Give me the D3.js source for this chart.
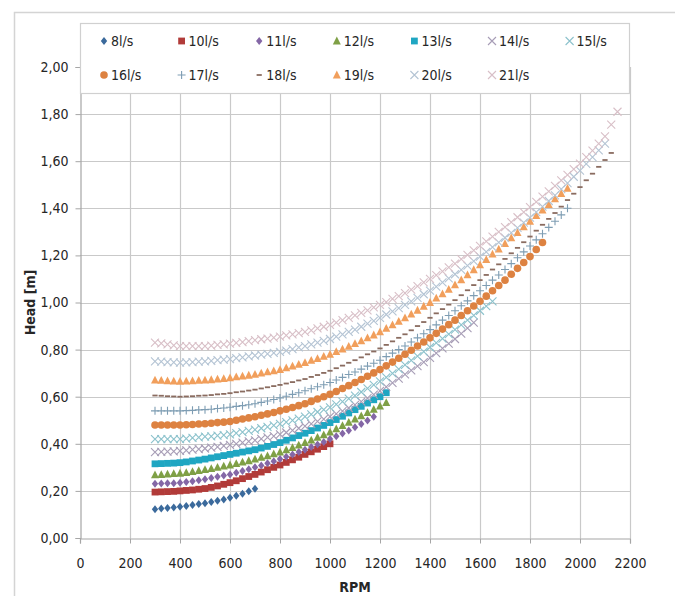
<!DOCTYPE html>
<html>
<head>
<meta charset="utf-8">
<script src="https://cdn.jsdelivr.net/npm/d3@7"></script>
<style>
  html, body { margin: 0; padding: 0; background: #ffffff; overflow: hidden; }
  svg { display: block; }
  text { font-family: "DejaVu Sans Condensed", "DejaVu Sans", sans-serif; font-stretch: condensed; fill: #262626; }
</style>
</head>
<body>
<svg id="chart" width="675" height="596"></svg>
<script>
// ---------- DATA ----------
// shared RPM grid (every series starts at 300 RPM, one point per 25 RPM)
const rpm = [300,325,350,375,400,425,450,475,500,525,550,575,600,625,650,675,700,725,750,775,
  800,825,850,875,900,925,950,975,1000,1025,1050,1075,1100,1125,1150,1175,1200,1225,1250,1275,
  1300,1325,1350,1375,1400,1425,1450,1475,1500,1525,1550,1575,1600,1625,1650,1675,1700,1725,1750,1775,
  1800,1825,1850,1875,1900,1925,1950,1975,2000,2025,2050,2075,2100,2125,2150];

const seriesNames = ["8l/s","10l/s","11l/s","12l/s","13l/s","14l/s","15l/s","16l/s","17l/s","18l/s","19l/s","20l/s","21l/s"];

const head8 = [0.122,0.125,0.127,0.130,0.133,0.136,0.140,0.144,0.148,0.153,0.158,0.164,0.171,0.179,0.188,0.198,0.209];
const head10 = [0.195,0.196,0.197,0.198,0.200,0.202,0.204,0.207,0.210,0.215,0.221,0.228,0.235,0.243,0.252,0.261,0.270,0.280,0.290,0.300,0.310,0.321,0.332,0.343,0.355,0.366,0.377,0.388,0.400];
const head11 = [0.230,0.231,0.232,0.233,0.235,0.238,0.241,0.245,0.250,0.255,0.260,0.265,0.270,0.277,0.284,0.292,0.300,0.308,0.317,0.326,0.335,0.345,0.355,0.365,0.375,0.386,0.397,0.408,0.420,0.432,0.444,0.457,0.470,0.484,0.499,0.515];
const head12 = [0.268,0.269,0.271,0.273,0.275,0.278,0.282,0.286,0.290,0.295,0.300,0.305,0.310,0.316,0.322,0.328,0.335,0.342,0.349,0.357,0.365,0.374,0.384,0.394,0.405,0.416,0.427,0.438,0.450,0.463,0.477,0.491,0.505,0.519,0.532,0.546,0.560,0.575];
const head13 = [0.315,0.316,0.317,0.318,0.320,0.323,0.327,0.331,0.335,0.340,0.345,0.350,0.355,0.360,0.365,0.370,0.375,0.382,0.389,0.397,0.405,0.415,0.425,0.435,0.445,0.456,0.467,0.478,0.490,0.503,0.517,0.531,0.545,0.559,0.573,0.587,0.600,0.617];
const head14 = [0.365,0.366,0.367,0.368,0.370,0.372,0.375,0.377,0.380,0.384,0.387,0.391,0.395,0.400,0.405,0.410,0.415,0.421,0.427,0.433,0.440,0.448,0.457,0.466,0.475,0.485,0.495,0.505,0.515,0.527,0.539,0.552,0.565,0.579,0.594,0.609,0.625,0.642,0.659,0.677,0.695,0.712,0.730,0.747,0.765,0.785,0.805,0.825,0.845,0.868,0.891,0.915];
const head15 = [0.420,0.420,0.420,0.420,0.420,0.422,0.425,0.427,0.430,0.432,0.435,0.437,0.440,0.445,0.450,0.455,0.460,0.466,0.472,0.478,0.485,0.492,0.499,0.507,0.515,0.525,0.535,0.545,0.555,0.567,0.579,0.592,0.605,0.620,0.635,0.650,0.665,0.682,0.699,0.717,0.735,0.754,0.772,0.791,0.810,0.829,0.847,0.866,0.885,0.905,0.925,0.945,0.965,0.985,1.005];
const head16 = [0.480,0.480,0.480,0.480,0.480,0.481,0.482,0.484,0.485,0.487,0.490,0.492,0.495,0.500,0.505,0.510,0.515,0.521,0.527,0.533,0.540,0.547,0.554,0.562,0.570,0.580,0.590,0.600,0.610,0.622,0.635,0.647,0.660,0.673,0.687,0.701,0.715,0.731,0.747,0.763,0.780,0.797,0.815,0.832,0.850,0.869,0.887,0.906,0.925,0.945,0.965,0.985,1.005,1.027,1.050,1.072,1.095,1.120,1.145,1.170,1.195,1.225,1.255];
const head17 = [0.540,0.540,0.540,0.540,0.540,0.541,0.542,0.544,0.545,0.547,0.550,0.552,0.555,0.559,0.562,0.566,0.570,0.576,0.582,0.588,0.595,0.602,0.610,0.617,0.625,0.634,0.642,0.651,0.660,0.671,0.682,0.694,0.705,0.717,0.730,0.742,0.755,0.770,0.785,0.800,0.815,0.832,0.850,0.867,0.885,0.905,0.925,0.945,0.965,0.986,1.007,1.029,1.050,1.072,1.095,1.117,1.140,1.165,1.190,1.215,1.240,1.266,1.292,1.319,1.345,1.372,1.400];
const head18 = [0.605,0.604,0.602,0.601,0.600,0.601,0.602,0.604,0.605,0.607,0.610,0.612,0.615,0.619,0.622,0.626,0.630,0.635,0.640,0.645,0.650,0.656,0.662,0.669,0.675,0.684,0.692,0.701,0.710,0.721,0.732,0.744,0.755,0.767,0.780,0.792,0.805,0.820,0.835,0.850,0.865,0.882,0.900,0.917,0.935,0.954,0.972,0.991,1.010,1.031,1.052,1.074,1.095,1.117,1.140,1.162,1.185,1.209,1.232,1.256,1.280,1.305,1.330,1.355,1.380,1.407,1.435,1.462,1.490,1.519,1.547,1.576,1.605,1.635];
const head19 = [0.670,0.669,0.667,0.666,0.665,0.666,0.667,0.669,0.670,0.672,0.675,0.677,0.680,0.684,0.687,0.691,0.695,0.700,0.705,0.710,0.715,0.722,0.730,0.737,0.745,0.754,0.762,0.771,0.780,0.791,0.802,0.814,0.825,0.837,0.850,0.862,0.875,0.890,0.905,0.920,0.935,0.951,0.967,0.984,1.000,1.019,1.037,1.056,1.075,1.096,1.117,1.139,1.160,1.182,1.205,1.227,1.250,1.274,1.297,1.321,1.345,1.369,1.392,1.416,1.440,1.462,1.485];
const head20 = [0.750,0.749,0.747,0.746,0.745,0.746,0.747,0.749,0.750,0.752,0.755,0.757,0.760,0.764,0.767,0.771,0.775,0.779,0.782,0.786,0.790,0.796,0.802,0.809,0.815,0.822,0.830,0.837,0.845,0.855,0.865,0.875,0.885,0.897,0.910,0.922,0.935,0.949,0.962,0.976,0.990,1.005,1.020,1.035,1.050,1.067,1.085,1.102,1.120,1.139,1.157,1.176,1.195,1.215,1.235,1.255,1.275,1.296,1.317,1.339,1.360,1.384,1.407,1.431,1.455,1.481,1.507,1.534,1.560,1.589,1.617,1.646,1.675];
const head21 = [0.830,0.826,0.822,0.818,0.815,0.815,0.815,0.815,0.815,0.817,0.820,0.822,0.825,0.829,0.832,0.836,0.840,0.844,0.847,0.851,0.855,0.860,0.865,0.870,0.875,0.882,0.890,0.897,0.905,0.915,0.925,0.935,0.945,0.956,0.967,0.979,0.990,1.002,1.015,1.027,1.040,1.055,1.070,1.085,1.100,1.116,1.132,1.149,1.165,1.184,1.202,1.221,1.240,1.260,1.280,1.300,1.320,1.341,1.362,1.384,1.405,1.427,1.450,1.472,1.495,1.519,1.542,1.566,1.590,1.617,1.645,1.675,1.705,1.755,1.810];

const xTicks = [0,200,400,600,800,1000,1200,1400,1600,1800,2000,2200];
const yTicks = [0,0.2,0.4,0.6,0.8,1.0,1.2,1.4,1.6,1.8,2.0];
const yTickLabels = ["0,00","0,20","0,40","0,60","0,80","1,00","1,20","1,40","1,60","1,80","2,00"];

// ---------- STYLE ----------
const seriesHeads = [head8,head10,head11,head12,head13,head14,head15,head16,head17,head18,head19,head20,head21];
const seriesShapes = ["diamond","square","diamond","triangle","square","x","x","circle","plus","dash","triangle","x","x"];
const seriesColors = ["#3B6A9C","#B13B39","#8467A6","#7FA046","#1FA6C2","#A79DB6","#8CC2CC","#DD8241","#7E9DB3","#8A6C60","#F19F5C","#B4C4D4","#D8BFC7"];
const FONT = '"DejaVu Sans Condensed","DejaVu Sans",sans-serif';

const svg = d3.select("#chart");
const x = d3.scaleLinear().domain([0,2200]).range([80,630]);
const y = d3.scaleLinear().domain([0,2]).range([538,67]);

// outer chart border (top and left edges visible)
svg.append("path").attr("d","M14.5,596V12.5H675")
  .attr("fill","none").attr("stroke","#D4D4D4").attr("stroke-width",1.5);

// grid
const grid = svg.append("g");
grid.selectAll(".hg").data(yTicks.filter(d=>d>0)).join("line")
  .attr("x1",x(0)).attr("x2",x(2200))
  .attr("y1",d=>Math.round(y(d))+0.5).attr("y2",d=>Math.round(y(d))+0.5)
  .attr("stroke","#C9C9C9").attr("stroke-width",1.2);
grid.selectAll(".vg").data(xTicks.filter(d=>d>0)).join("line")
  .attr("y1",y(0)).attr("y2",y(2))
  .attr("x1",d=>Math.round(x(d))+0.5).attr("x2",d=>Math.round(x(d))+0.5)
  .attr("stroke","#C9C9C9").attr("stroke-width",1.2);

// axes
const xAxis = d3.axisBottom(x).tickValues(xTicks).tickSize(5).tickFormat(d3.format("d"));
const gx = svg.append("g").attr("transform",`translate(0,${Math.round(y(0))+0.5})`).call(xAxis);
gx.select(".domain").attr("stroke","#A6A6A6").attr("stroke-width",1.2);
gx.selectAll(".tick line").attr("stroke","#A6A6A6");
gx.selectAll(".tick text").attr("dy","0.35em").attr("y",25).attr("font-size",14).attr("fill","#262626")
  .style("font-family",FONT);

const yAxis = d3.axisLeft(y).tickValues(yTicks).tickSize(5).tickFormat((d,i)=>yTickLabels[i]);
const gy = svg.append("g").attr("transform",`translate(${Math.round(x(0))+0.5},0)`).call(yAxis);
gy.select(".domain").attr("stroke","#A6A6A6").attr("stroke-width",1.2);
gy.selectAll(".tick line").attr("stroke","#A6A6A6");
gy.selectAll(".tick text").attr("x",-12).attr("font-size",14).attr("fill","#262626")
  .style("font-family",FONT);

// axis titles
svg.append("text").attr("x",(x(0)+x(2200))/2).attr("y",592).attr("text-anchor","middle")
  .attr("font-size",14).attr("font-weight","bold").text("RPM");
svg.append("text").attr("transform",`translate(35,${(y(0)+y(2))/2}) rotate(-90)`).attr("text-anchor","middle")
  .attr("font-size",14).attr("font-weight","bold").text("Head [m]");

// marker shape paths
function shapePath(s){
  switch(s){
    case "diamond": return "M0,-4L3.2,0L0,4L-3.2,0Z";
    case "square": return "M-3.4,-3.4H3.4V3.4H-3.4Z";
    case "triangle": return "M0,-4.4L4,3.4H-4Z";
    case "circle": return "M3.8,0A3.8,3.8 0 1 1 -3.8,0A3.8,3.8 0 1 1 3.8,0Z";
    case "x": return "M-4,-4L4,4M-4,4L4,-4";
    case "plus": return "M-4,0H4M0,-4V4";
    case "dash": return "M-2.6,0H2.6";
  }
}
function styleMarker(sel, shape, color){
  if (shape==="x" || shape==="plus"){
    sel.attr("fill","none").attr("stroke",color).attr("stroke-width",1.1);
  } else if (shape==="dash"){
    sel.attr("fill","none").attr("stroke",color).attr("stroke-width",1.8);
  } else {
    sel.attr("fill",color).attr("stroke","none");
  }
}

// series
const plot = svg.append("g");
seriesHeads.forEach((vals,si)=>{
  const pts = vals.map((h,i)=>({rpm:rpm[i],h:h}));
  const sel = plot.append("g").selectAll("path").data(pts).join("path")
    .attr("transform",d=>`translate(${x(d.rpm)},${y(d.h)})`)
    .attr("d",shapePath(seriesShapes[si]));
  styleMarker(sel, seriesShapes[si], seriesColors[si]);
});

// legend
const lg = svg.append("g");
lg.append("rect").attr("x",80.5).attr("y",23.5).attr("width",549).attr("height",70)
  .attr("fill","#ffffff").attr("stroke","#D0D0D0").attr("stroke-width",1.2);
seriesNames.forEach((name,i)=>{
  const row = i<7 ? 0 : 1;
  const col = i<7 ? i : i-7;
  const mx = 104 + col*77.6;
  const my = row===0 ? 41 : 75;
  const m = lg.append("path").attr("transform",`translate(${mx},${my})`).attr("d",shapePath(seriesShapes[i]));
  styleMarker(m, seriesShapes[i], seriesColors[i]);
  lg.append("text").attr("x",mx+7).attr("y",my).attr("dy","0.35em").attr("font-size",14).text(name);
});
</script>
</body>
</html>
